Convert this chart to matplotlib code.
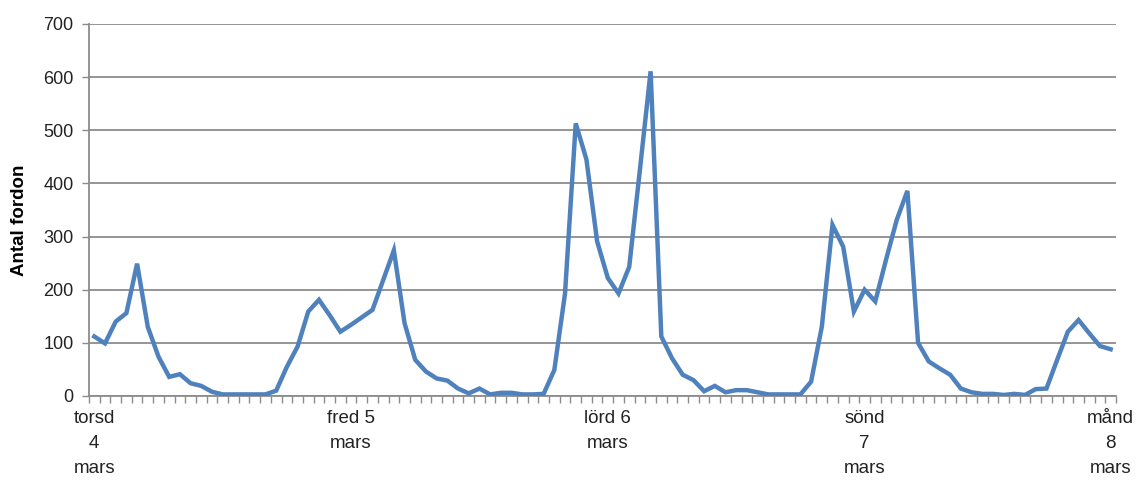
import matplotlib
matplotlib.use("Agg")
import matplotlib.pyplot as plt
import numpy as np

plt.rcParams["font.family"] = ["Liberation Sans", "DejaVu Sans"]

# Antal fordon per timme, torsd 4 mars 00 -> sönd 7 mars 23 (96 timmar)
values = [
    112, 99, 140, 156, 249, 130, 74, 36, 41, 24, 19, 8,
    3, 3, 3, 3, 3, 10, 55, 93, 159, 181, 152, 121,
    134, 148, 162, 218, 274, 137, 68, 46, 33, 29, 14, 5,
    14, 3, 6, 6, 3, 3, 4, 49, 193, 513, 445, 291,
    222, 193, 243, 426, 611, 112, 71, 40, 30, 9, 19, 7,
    11, 11, 7, 3, 3, 3, 3, 27, 130, 322, 281, 159,
    200, 178, 256, 331, 386, 100, 65, 52, 40, 14, 7, 4,
    4, 2, 4, 2, 13, 14, 68, 121, 143, 118, 94, 88,
]
day_labels = ["torsd\n4\nmars", "fred 5\nmars", "lörd 6\nmars",
              "sönd\n7\nmars", "månd\n8\nmars"]
day_pos = [0, 24, 48, 72, 95]
y_ticks = [0, 100, 200, 300, 400, 500, 600, 700]

fig = plt.figure(figsize=(11.39, 4.8), dpi=100)
ax = fig.add_axes([0.0781, 0.175, 0.9017, 0.775])

x = np.arange(len(values))
ax.plot(x, values, color="#4F81BD", lw=3.2, solid_joinstyle="miter", zorder=3)

ax.set_xlim(-0.5, len(values) - 0.5)
ax.set_ylim(0, 700)
ax.set_yticks(y_ticks)
ax.yaxis.grid(True, color="#8C8C8C", lw=1.3)
ax.set_axisbelow(True)

# kategoriaxel: etiketter utan streck, streck mellan timmarna
ax.set_xticks(day_pos)
ax.set_xticklabels(day_labels, linespacing=1.63, va="top", ma="center",
                   fontsize=13.5)
ax.set_xticks(np.arange(-0.5, len(values)), minor=True)
ax.tick_params(axis="x", which="major", length=0, pad=10)
ax.tick_params(axis="x", which="minor", length=5, width=1, color="#8C8C8C")
ax.tick_params(axis="y", length=5, width=1, color="#8C8C8C", pad=6,
               labelsize=13)
ax.tick_params(labelcolor="#222222")

for s in ("top", "right"):
    ax.spines[s].set_visible(False)
for s in ("left", "bottom"):
    ax.spines[s].set_color("#8C8C8C")
    ax.spines[s].set_linewidth(1.3)

ax.set_ylabel("Antal fordon", fontsize=13.5, fontweight="bold")
ax.yaxis.set_label_coords(-0.059, 0.473)

fig.savefig("out.png", dpi=100)
